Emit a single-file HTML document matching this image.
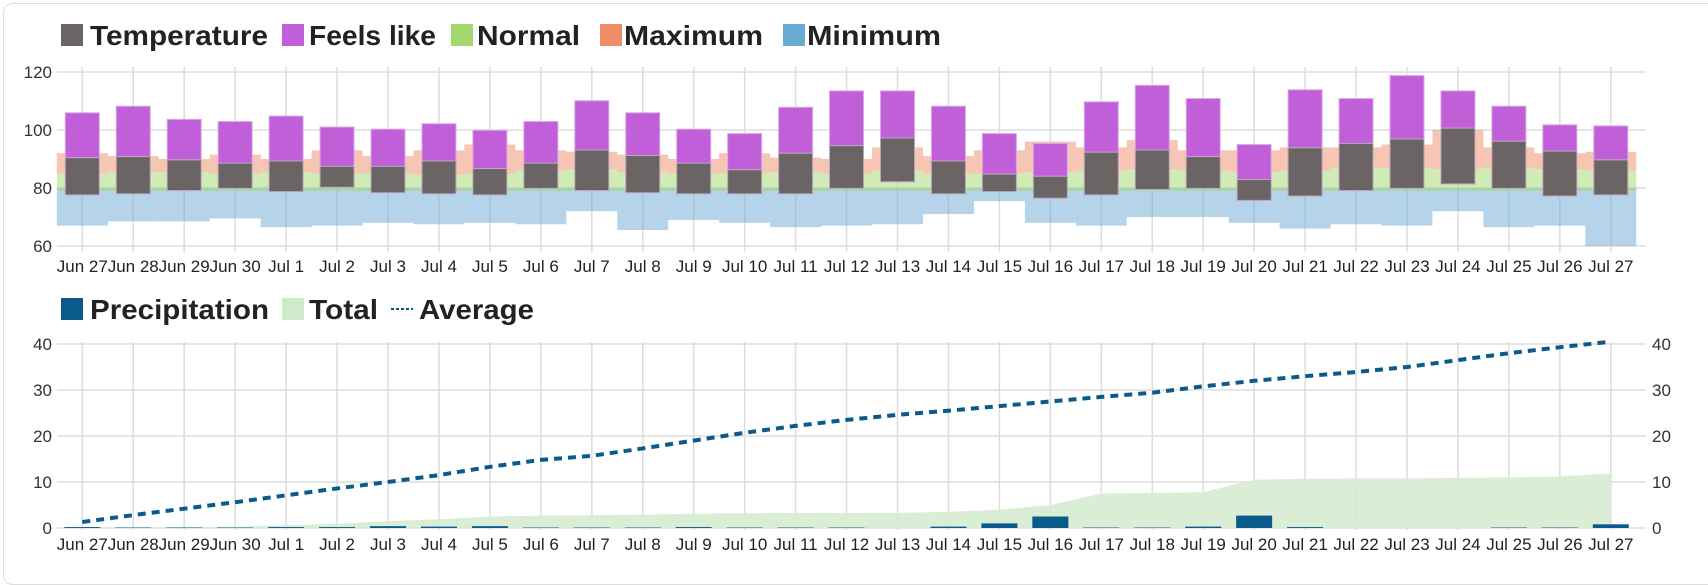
<!DOCTYPE html>
<html><head><meta charset="utf-8"><style>
html,body{margin:0;padding:0;background:#fff;width:1708px;height:564px;overflow:hidden}
#card{position:absolute;left:3px;top:3px;width:1720px;height:580px;border:1px solid #ddd;border-radius:10px}
svg{position:absolute;left:0;top:0}
text{font-family:"Liberation Sans",Arial,sans-serif}
</style></head><body><div id="card"></div>
<svg id="s" width="1708" height="564" xmlns="http://www.w3.org/2000/svg"></svg>
<script>
const S=document.getElementById('s');let h='';
const X=i=>82.3+50.95*i, W=50.95;
const yT=v=>72+(120-v)*2.9, yB=v=>528-v*4.6;
const labels=["Jun 27","Jun 28","Jun 29","Jun 30"];for(let d=1;d<=27;d++)labels.push("Jul "+d);
function leg(y,items){for(const[c,t,bx,tx,tw,line] of items){if(line){h+=`<line x1="${bx}" y1="${y+11}" x2="${bx+22}" y2="${y+11}" stroke="#0b5a8c" stroke-width="2" stroke-dasharray="3,2"/>`;}else h+=`<rect x="${bx}" y="${y}" width="22" height="22" fill="${c}"/>`;h+=`<text x="${tx}" y="${y+21}" font-size="28" font-weight="bold" fill="#222" textLength="${tw}" lengthAdjust="spacingAndGlyphs">${t}</text>`;}}
for(const v of [60,80,100,120]){h+=`<line x1="57" x2="1646" y1="${yT(v)}" y2="${yT(v)}" stroke="#ddd" stroke-width="1.5"/><text x="52" y="${yT(v)+6}" font-size="17" text-anchor="end" fill="#333">${v}</text>`;}
for(let i=0;i<31;i++){h+=`<line x1="${X(i)}" x2="${X(i)}" y1="67" y2="252" stroke="#ddd" stroke-width="1.5"/><text x="${X(i)}" y="272" font-size="17" text-anchor="middle" fill="#222">${labels[i]}</text>`;}
const blo=[67,68.5,68.5,69.5,66.5,67,68,67.5,68,67.5,72,65.5,69,68,66.5,67,67.5,71,75.5,68,67,70,70,68,66,67.5,67,72,66.5,67,60];
const gtop=[85,85.5,85.5,85,85.5,85,85,84.5,85,86,86.5,85.5,85,85,85.5,85,86,85,85,85.5,86,86.5,86,85.5,86,87,87,86.5,87,86.5,86];
const stop=[92,91,90,91.5,90,93,91,93,95,93,92.5,91.5,90,92,90.5,90,94,91,93,96,94,96.5,93,93,94,94,95,100,94,92,92.5];
for(let i=0;i<31;i++){const x0=X(i)-W/2;
h+=`<rect x="${x0}" y="${yT(80)}" width="${W}" height="${yT(blo[i])-yT(80)}" fill="#6baad3" opacity=".5"/>`;
h+=`<rect x="${x0}" y="${yT(gtop[i])}" width="${W}" height="${yT(79)-yT(gtop[i])}" fill="#a4d86e" opacity=".5"/>`;
h+=`<rect x="${x0}" y="${yT(stop[i])}" width="${W}" height="${yT(gtop[i])-yT(stop[i])}" fill="#f08c68" opacity=".5"/>`;}
const B=[[103,144,178],[97,143,177],[109,146,174],[111,149,172],[106,147,175],[116,152,171],[118,152,176],[113,147,177],[119,154,178],[111,149,172],[92,137,174],[103,142,176],[118,149,177],[122,155,177],[98,140,177],[83,133,172],[83,126,166],[97,147,177],[122,159,175],[131,161,181],[93,139,178],[78,137,173],[90,143,172],[132,164,183],[82,135,179],[90,131,174],[69,127,172],[83,117,168],[97,129,172],[114,138,179],[115,146,178]];
for(let i=0;i<31;i++){const[a,b,c]=B[i].map(y=>y*1.095);const x0=X(i)-17;
h+=`<rect x="${x0}" y="${a}" width="34" height="${b-a}" fill="#c05fd8" stroke="#d9a8e6" stroke-width="1"/>`;
h+=`<rect x="${x0}" y="${b}" width="34" height="${c-b}" fill="#6b6464" stroke="#b9a6bd" stroke-width="1"/>`;}
leg(24,[["#6b6464","Temperature",61,90,178],["#c05fd8","Feels like",282,309,127],["#a4d86e","Normal",451,477,103],["#f08c68","Maximum",600,624,139],["#6baad3","Minimum",783,807,134]]);
for(const v of [0,10,20,30,40]){h+=`<line x1="57" x2="1646" y1="${yB(v)}" y2="${yB(v)}" stroke="#ddd" stroke-width="1.5"/><text x="52" y="${yB(v)+6}" font-size="17" text-anchor="end" fill="#333">${v}</text><text x="1652" y="${yB(v)+6}" font-size="17" fill="#333">${v}</text>`;}
for(let i=0;i<31;i++){h+=`<line x1="${X(i)}" x2="${X(i)}" y1="342" y2="530" stroke="#ddd" stroke-width="1.5"/><text x="${X(i)}" y="550" font-size="17" text-anchor="middle" fill="#222">${labels[i]}</text>`;}
const T=[0,0.1,0.2,0.3,0.6,0.9,1.5,1.9,2.5,2.7,2.8,2.9,3.1,3.2,3.3,3.3,3.3,3.5,4,5,7.5,7.6,7.8,10.5,10.7,10.8,10.8,10.9,11,11.2,11.9];
let p=`M${X(0)},${yB(0)}`;for(let i=0;i<31;i++)p+=`L${X(i)},${yB(T[i])}`;p+=`L${X(30)},${yB(0)}Z`;
h+=`<path d="${p}" fill="#d5ecd0" opacity=".9"/>`;
const P=[0.2,0.1,0.1,0.1,0.2,0.2,0.4,0.3,0.4,0.1,0.1,0.1,0.2,0.1,0.1,0.1,0,0.3,1,2.5,0.1,0.1,0.3,2.7,0.2,0,0,0,0.1,0.1,0.8];
for(let i=0;i<31;i++)if(P[i]>0)h+=`<rect x="${X(i)-18}" y="${yB(P[i])}" width="36" height="${P[i]*4.6}" fill="#0b5a8c"/>`;
const A=[1.3,2.8,4.2,5.6,7.1,8.6,10,11.5,13.3,14.8,15.7,17.3,19,20.7,22.2,23.5,24.6,25.5,26.5,27.5,28.5,29.4,30.8,32,33,33.9,35,36.5,38,39.3,40.5];
h+=`<polyline points="${A.map((v,i)=>X(i)+','+yB(v)).join(' ')}" fill="none" stroke="#0b5a8c" stroke-width="4" stroke-dasharray="8,6"/>`;
leg(298,[["#0b5a8c","Precipitation",61,90,179],["#cfeacb","Total",282,309,69],["","Average",391,419,115,1]]);
S.innerHTML=h;
</script></body></html>
